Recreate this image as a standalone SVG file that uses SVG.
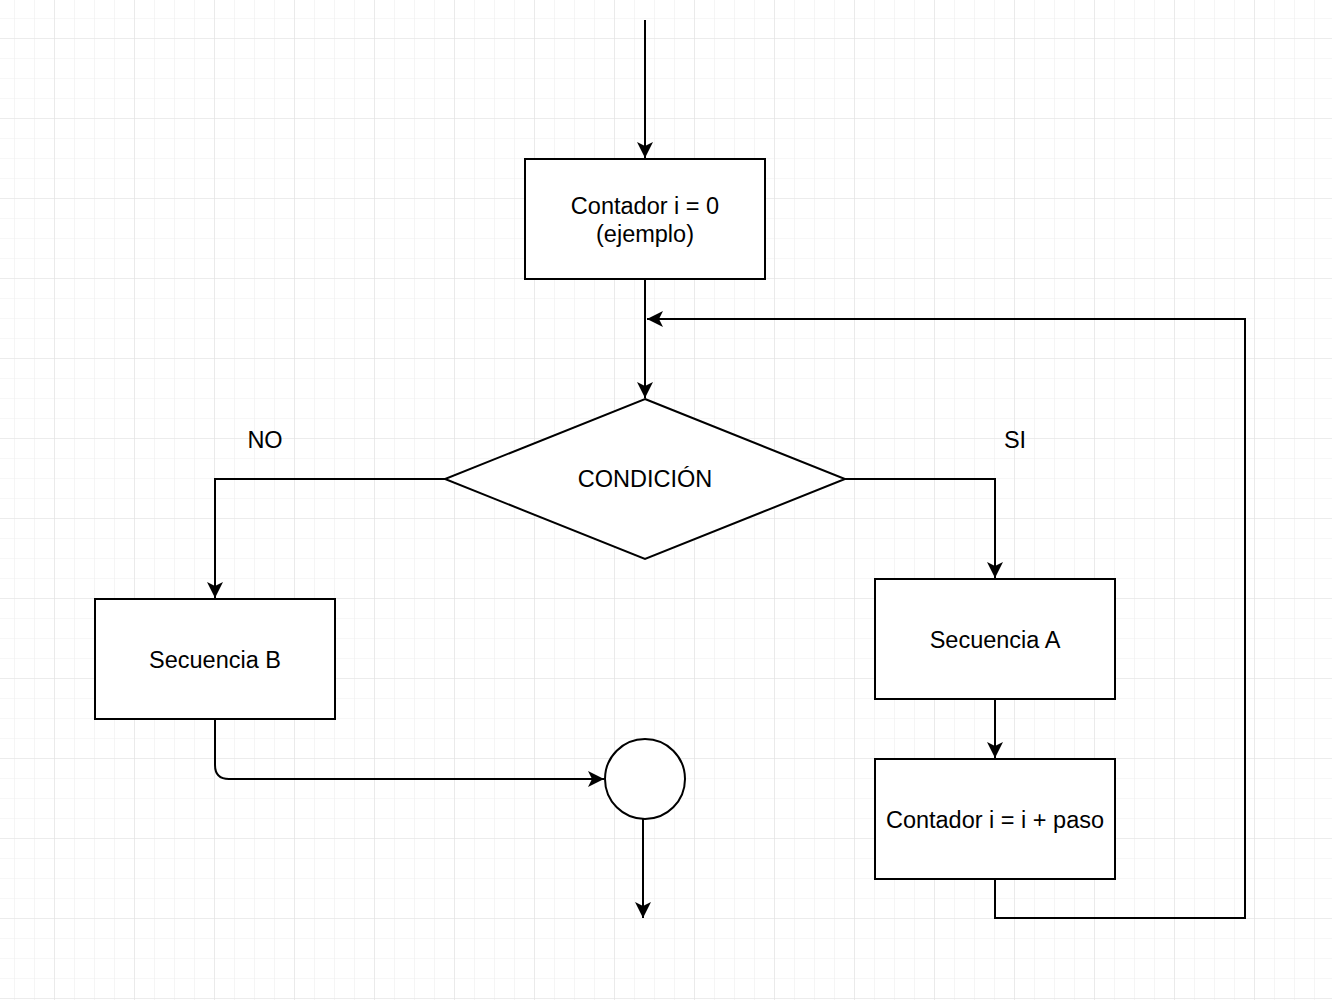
<svg xmlns="http://www.w3.org/2000/svg" width="1332" height="1000" viewBox="0 0 1332 1000">
<defs>
<pattern id="minor" x="14" y="18" width="20" height="20" patternUnits="userSpaceOnUse">
<path d="M0 0H20M0 0V20" fill="none" stroke="#efefef" stroke-width="1.2"/>
</pattern>
<pattern id="major" x="54" y="38" width="80" height="80" patternUnits="userSpaceOnUse">
<path d="M0 0H80M0 0V80" fill="none" stroke="#e2e2e2" stroke-width="1.2"/>
</pattern>
<marker id="arr" markerUnits="userSpaceOnUse" markerWidth="20" markerHeight="20" viewBox="-17 -10 20 20" refX="0" refY="0" orient="auto">
<path d="M-16 -8 L0 0 L-16 8 L-12 0 Z" fill="#000"/>
</marker>
</defs>
<style>
.n{fill:#fff;stroke:#000;stroke-width:2}
.e{fill:none;stroke:#000;stroke-width:2}
text{font-family:"Liberation Sans",Arial,sans-serif;font-size:23.5px;fill:#000;text-anchor:middle;dominant-baseline:central}
</style>
<rect width="1332" height="1000" fill="#fff"/>
<rect width="1332" height="1000" fill="url(#minor)"/>
<rect width="1332" height="1000" fill="url(#major)"/>
<g id="connectors">
<path class="e" d="M645 20V158" marker-end="url(#arr)"/>
<path class="e" d="M645 279V398" marker-end="url(#arr)"/>
<path class="e" d="M995 879V918H1245V319H647" marker-end="url(#arr)"/>
<path class="e" d="M445 479H215V598" marker-end="url(#arr)"/>
<path class="e" d="M845 479H995V578" marker-end="url(#arr)"/>
<path class="e" d="M995 699V758" marker-end="url(#arr)"/>
<path class="e" d="M215 719V765Q215 779 229 779H604" marker-end="url(#arr)"/>
<path class="e" d="M643 819V918" marker-end="url(#arr)"/>
<text x="265" y="440">NO</text>
<text x="1015" y="440">SI</text>
</g>
<g id="init">
<rect class="n" x="525" y="159" width="240" height="120"/>
<text x="645" y="206">Contador i = 0</text>
<text x="645" y="234">(ejemplo)</text>
</g>
<g id="cond">
<path class="n" d="M645 399L845 479L645 559L445 479Z" stroke-width="1.3"/>
<text x="645" y="479">CONDICIÓN</text>
</g>
<g id="secB">
<rect class="n" x="95" y="599" width="240" height="120"/>
<text x="215" y="660">Secuencia B</text>
</g>
<g id="secA">
<rect class="n" x="875" y="579" width="240" height="120"/>
<text x="995" y="640">Secuencia A</text>
</g>
<g id="inc">
<rect class="n" x="875" y="759" width="240" height="120"/>
<text x="995" y="820">Contador i = i + paso</text>
</g>
<g id="end">
<circle class="n" cx="645" cy="779" r="40"/>
</g>
</svg>
